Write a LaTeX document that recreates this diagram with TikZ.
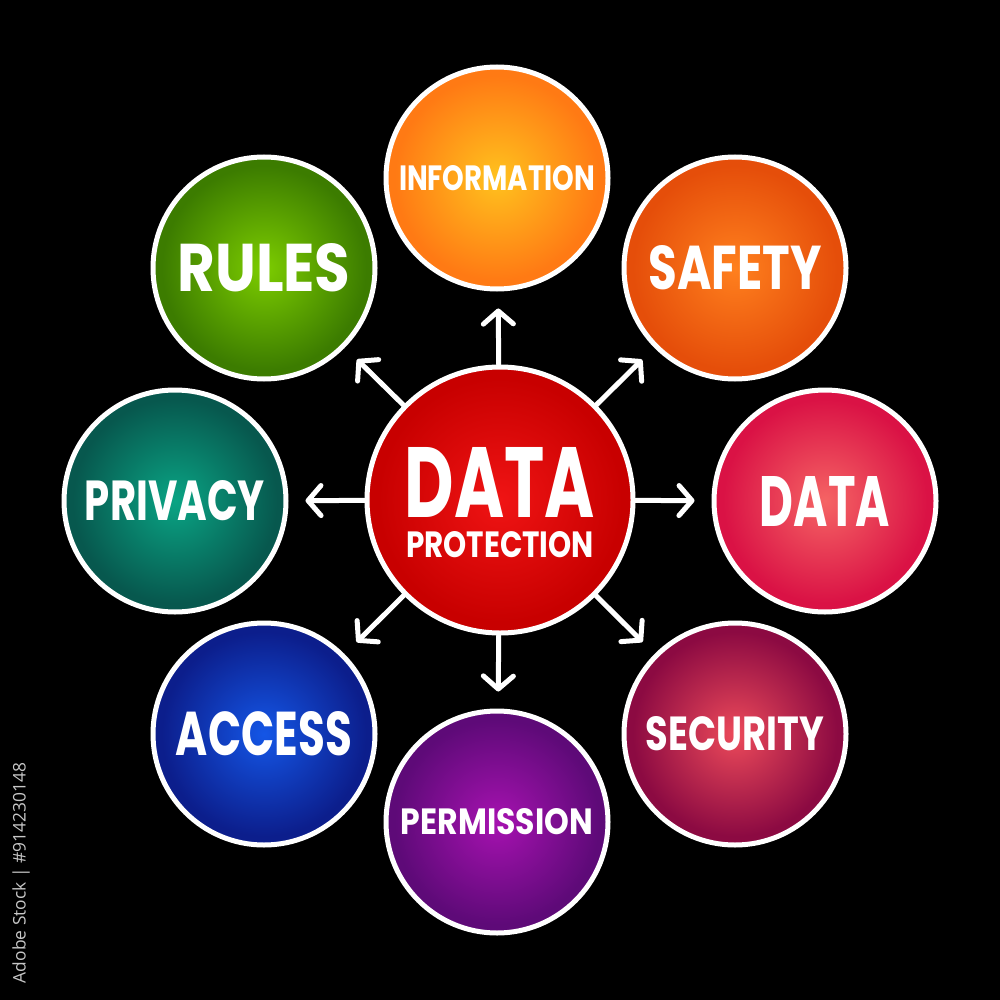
\documentclass[tikz,border=0pt]{standalone}
\usepackage{fontspec}
\usepackage{graphicx}
\setmainfont{Poppins}
\newfontfamily\wmfont{Open Sans}
\usetikzlibrary{arrows.meta}
\colorlet{ci}{white}
\colorlet{co}{black}
\pgfdeclareradialshading[ci,co]{bubshade}{\pgfpoint{0bp}{0bp}}{color(0bp)=(ci); color(23bp)=(co); color(50bp)=(co)}
\definecolor{infoI}{HTML}{FFC21E}\definecolor{infoO}{HTML}{FF7A14}
\definecolor{safeI}{HTML}{FF801E}\definecolor{safeO}{HTML}{E54E0A}
\definecolor{dataI}{HTML}{F56464}\definecolor{dataO}{HTML}{DA1245}
\definecolor{secI}{HTML}{EC4A5A}\definecolor{secO}{HTML}{8C0A42}
\definecolor{permI}{HTML}{A612B0}\definecolor{permO}{HTML}{5E0A78}
\definecolor{accI}{HTML}{1456E6}\definecolor{accO}{HTML}{0C1E8C}
\definecolor{privI}{HTML}{0AA484}\definecolor{privO}{HTML}{07584E}
\definecolor{rulI}{HTML}{7CCC00}\definecolor{rulO}{HTML}{3C7C00}
\definecolor{cenI}{HTML}{F01414}\definecolor{cenO}{HTML}{C80000}
\newcommand{\lbl}[3]{\resizebox{#1pt}{#2pt}{\bfseries #3}}
\begin{document}
\begin{tikzpicture}[x=1pt,y=-1pt,
  bub/.style 2 args={circle, draw=white, line width=5pt, inner sep=0pt,
    minimum size=222pt, text=white,
    /utils/exec={\colorlet{ci}{#1}\colorlet{co}{#2}}, shading=bubshade},
  arr/.style={draw=white, line width=5pt, line cap=round, line join=round,
    -{Straight Barb[length=13pt,width=30pt,round]}, shorten >=17pt}]
\fill[black] (0,0) rectangle (1000,1000);
\useasboundingbox (0,0) rectangle (1000,1000);
% centre
\node[bub={cenI}{cenO}, minimum size=266pt] (c) at (500,500)
  {\parbox{200pt}{\centering\vspace*{6pt}\par\nointerlineskip\lbl{190}{70}{DATA}\par\nointerlineskip\vskip14pt\lbl{188}{26}{PROTECTION}}};
% satellites
\node[bub={infoI}{infoO}] (info) at (497,178) {\lbl{196}{25}{INFORMATION}};
\node[bub={safeI}{safeO}] (safety) at (735,268) {\lbl{173}{44}{SAFETY}};
\node[bub={dataI}{dataO}] (data) at (825,501) {\lbl{130}{50}{DATA}};
\node[bub={secI}{secO}] (sec) at (735,734) {\lbl{178}{34}{SECURITY}};
\node[bub={permI}{permO}] (perm) at (497,822) {\lbl{192}{26}{PERMISSION}};
\node[bub={accI}{accO}] (access) at (264,734) {\lbl{176}{44}{ACCESS}};
\node[bub={privI}{privO}] (priv) at (175,501) {\lbl{180}{40}{PRIVACY}};
\node[bub={rulI}{rulO}] (rules) at (264,268) {\lbl{173}{48}{RULES}};
% arrows
\foreach \t in {info,safety,data,sec,perm,access,priv,rules}
  \draw[arr] (c) -- (\t);
% id strip
\node[rotate=90, text=black!22, inner sep=0pt] (wm) at (21,873)
  {\resizebox{220pt}{!}{\wmfont Adobe Stock | \#914230148}};
\end{tikzpicture}
\end{document}
